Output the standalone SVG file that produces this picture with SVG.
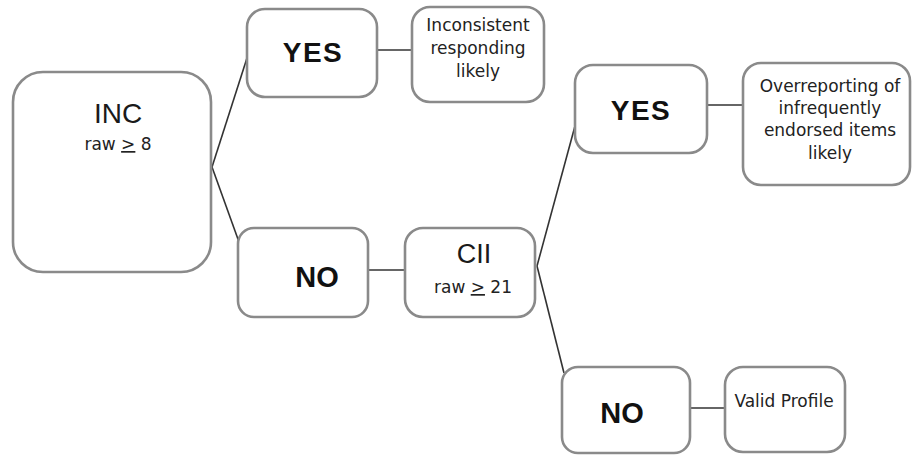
<svg xmlns="http://www.w3.org/2000/svg" width="913" height="456" viewBox="0 0 913 456">
<style>
.box{fill:#fff;stroke:#8a8a8a;stroke-width:2.6}
.big{font-family:"Liberation Sans",Arial,sans-serif;fill:#1a1a1a;text-anchor:middle}
.bold{font-family:"Liberation Sans",Arial,sans-serif;font-weight:bold;fill:#111;text-anchor:middle}
.sm{font-family:"DejaVu Sans",Verdana,sans-serif;font-size:17px;fill:#222;text-anchor:middle}
.conn{stroke:#333;stroke-width:1.6;fill:none}
</style>
<rect width="913" height="456" fill="#fff"/>
<g id="connectors">
<path class="conn" d="M212,167 L247,58"/>
<path class="conn" d="M212,167 L239,242"/>
<path class="conn" d="M377,50 L412,50"/>
<path class="conn" d="M368,270 L405,270"/>
<path class="conn" d="M537,266 L575,126"/>
<path class="conn" d="M537,266 L564,373"/>
<path class="conn" d="M707,105 L743,105"/>
<path class="conn" d="M690,408 L725,408"/>
</g>
<g id="inc">
<rect class="box" x="13" y="72" width="198" height="200" rx="30"/>
<text class="big" x="118" y="123" font-size="28">INC</text>
<text class="sm" x="118" y="150" font-size="16.5">raw <tspan text-decoration="underline">&gt;</tspan> 8</text>
</g>
<g id="yes1">
<rect class="box" x="247" y="9" width="130" height="88" rx="18"/>
<text class="bold" x="313" y="62" font-size="28" letter-spacing="1.5">YES</text>
</g>
<g id="inconsistent">
<rect class="box" x="412" y="7" width="132" height="95" rx="18"/>
<text class="sm" x="478" y="31">Inconsistent</text>
<text class="sm" x="478" y="54">responding</text>
<text class="sm" x="478" y="77">likely</text>
</g>
<g id="no1">
<rect class="box" x="238" y="228" width="130" height="89" rx="16"/>
<text class="bold" x="317" y="287" font-size="29">NO</text>
</g>
<g id="cii">
<rect class="box" x="405" y="228" width="130" height="89" rx="18"/>
<text class="big" x="474" y="263" font-size="27">CII</text>
<text class="sm" x="473" y="293" font-size="16">raw <tspan text-decoration="underline">&gt;</tspan> 21</text>
</g>
<g id="yes2">
<rect class="box" x="575" y="65" width="132" height="88" rx="18"/>
<text class="bold" x="641" y="120" font-size="28" letter-spacing="1.5">YES</text>
</g>
<g id="overreporting">
<rect class="box" x="743" y="63" width="167" height="122" rx="18"/>
<text class="sm" x="830" y="92" font-size="18">Overreporting of</text>
<text class="sm" x="830" y="114" font-size="18">infrequently</text>
<text class="sm" x="830" y="136" font-size="18">endorsed items</text>
<text class="sm" x="830" y="159" font-size="18">likely</text>
</g>
<g id="no2">
<rect class="box" x="562" y="367" width="128" height="86" rx="16"/>
<text class="bold" x="622" y="423" font-size="29">NO</text>
</g>
<g id="valid">
<rect class="box" x="725" y="367" width="120" height="85" rx="18"/>
<text class="sm" x="784" y="407" font-size="17.5">Valid Profile</text>
</g>
</svg>
